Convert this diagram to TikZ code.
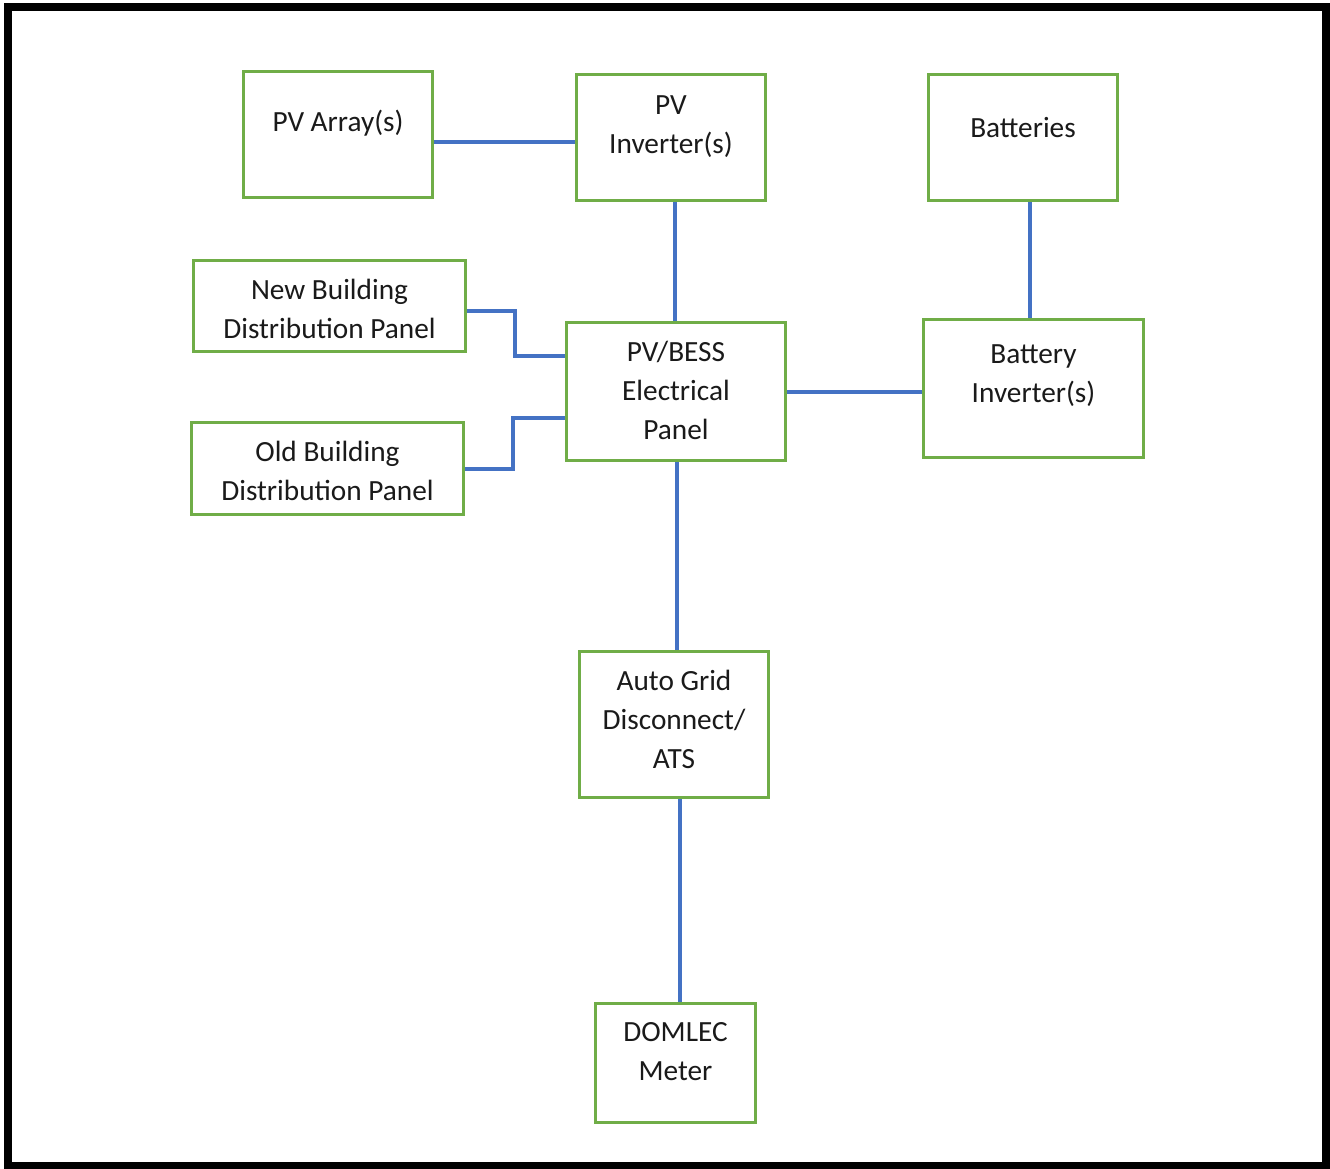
\documentclass[tikz,border=0pt]{standalone}
\usepackage{fontspec}
\setmainfont{Carlito}
\definecolor{boxgreen}{HTML}{70AD47}
\definecolor{linkblue}{HTML}{4472C4}
\definecolor{txt}{HTML}{1A1A1A}
\begin{document}
\begin{tikzpicture}[x=1pt,y=-1pt,
  blk/.style={draw=boxgreen,line width=3pt,fill=white,inner sep=0pt,anchor=north west},
  lbl/.style={align=center,text=txt,font=\fontsize{29.3}{39}\selectfont},
  link/.style={draw=linkblue,line width=4pt}]
\useasboundingbox (0,0) rectangle (1330,1169);
\draw[line width=8pt] (8,7.5) rectangle (1326,1165.5);

\node[blk,minimum width=189pt,minimum height=126pt,label={[lbl,yshift=11pt]center:PV Array(s)}] (pva) at (242,70) {};
\node[blk,minimum width=189pt,minimum height=126pt,label={[lbl,yshift=10.5pt]center:PV\\Inverter(s)}] (pvi) at (575,73) {};
\node[blk,minimum width=189pt,minimum height=126pt,label={[lbl,yshift=10pt]center:Batteries}] (bat) at (927,73) {};
\node[blk,minimum width=272pt,minimum height=91pt,label={[lbl,yshift=-3pt]center:New Building\\Distribution Panel}] (nbd) at (192,259) {};
\node[blk,minimum width=219pt,minimum height=138pt,label={[lbl,yshift=1pt]center:PV/BESS\\Electrical\\Panel}] (pan) at (565,321) {};
\node[blk,minimum width=220pt,minimum height=138pt,label={[lbl,yshift=12.5pt]center:Battery\\Inverter(s)}] (bin) at (922,318) {};
\node[blk,minimum width=272pt,minimum height=92pt,label={[lbl,yshift=-2.5pt]center:Old Building\\Distribution Panel}] (obd) at (190,421) {};
\node[blk,minimum width=189pt,minimum height=146pt,label={[lbl,yshift=5pt]center:Auto Grid\\Disconnect/\\ATS}] (ats) at (578,650) {};
\node[blk,minimum width=160pt,minimum height=119pt,label={[lbl,yshift=11pt]center:DOMLEC\\Meter}] (met) at (594,1002) {};

\draw[link] ([yshift=-8pt]pva.east) -- ([yshift=-8pt]pva.east -| pvi.west);
\draw[link] ([xshift=3.5pt]pvi.south) -- ([xshift=3.5pt]pvi.south |- pan.north);
\draw[link] ([xshift=6.5pt]bat.south) -- ([xshift=6.5pt]bat.south |- bin.north);
\draw[link] ([yshift=-3pt]bin.west -| pan.east) -- ([yshift=-3pt]bin.west);
\draw[link] ([yshift=-4.5pt]nbd.east) -| (515,356) -- (515,356 -| pan.west);
\draw[link] (obd.east) -| (513,418) -- (513,418 -| pan.west);
\draw[link] ([xshift=0.5pt]pan.south) -- ([xshift=0.5pt]pan.south |- ats.north);
\draw[link] ([xshift=5.5pt]ats.south) -- ([xshift=5.5pt]ats.south |- met.north);
\end{tikzpicture}
\end{document}
